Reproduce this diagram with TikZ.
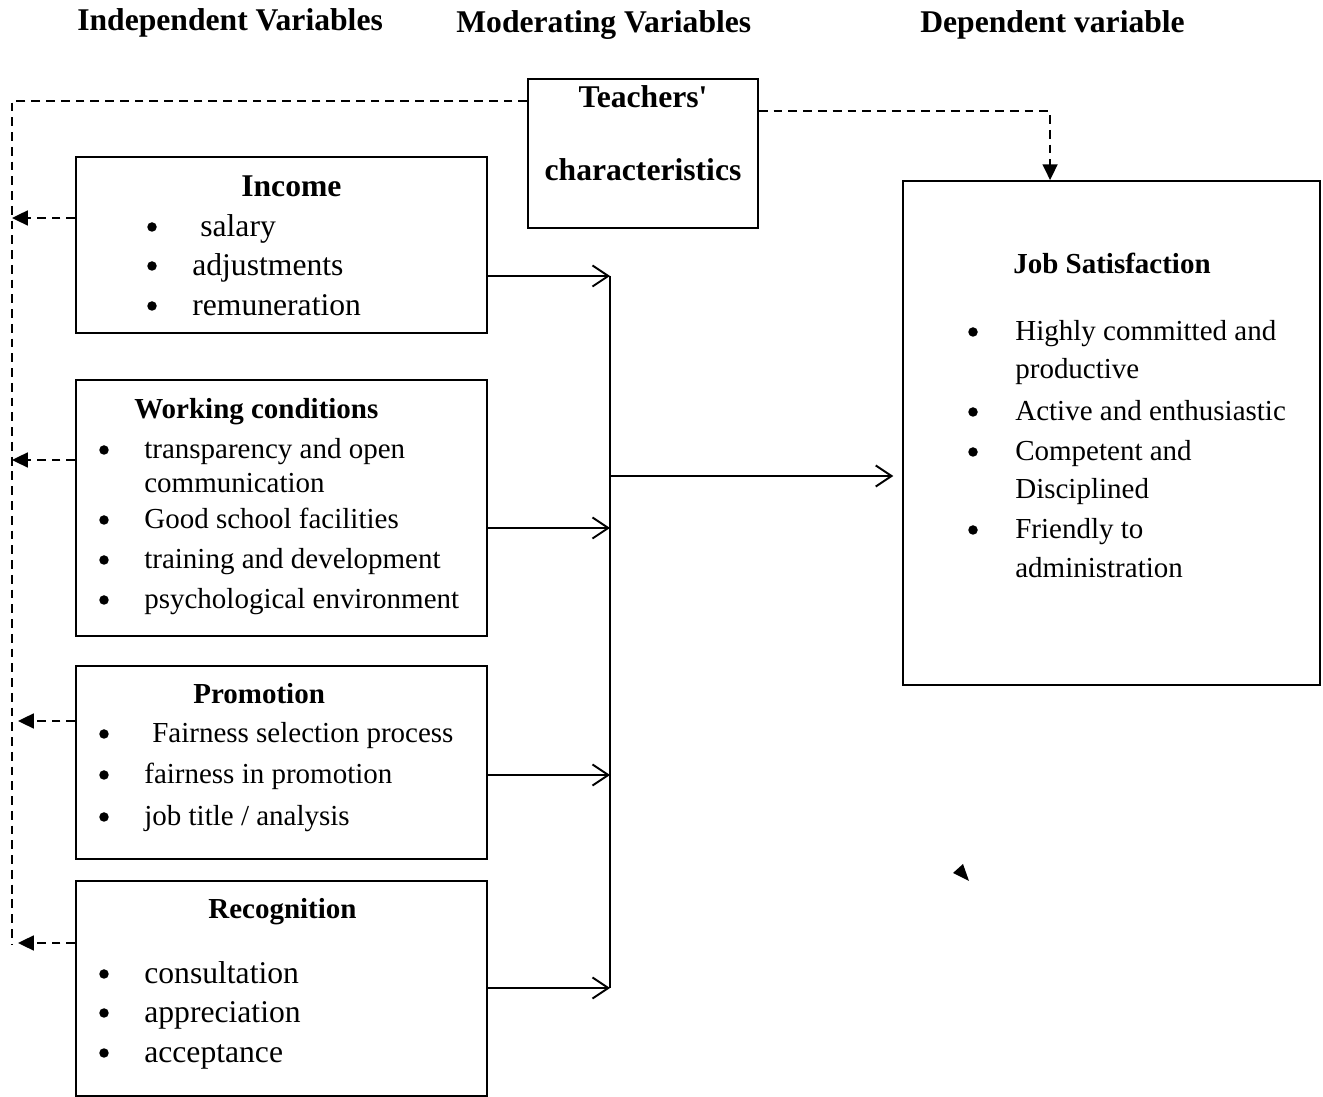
\documentclass[tikz,border=0pt]{standalone}
\usepackage{fontspec}
\setmainfont{Liberation Serif}
\usepackage{tikz}
\usepackage{xcolor}
\usetikzlibrary{positioning,arrows.meta,calc}

\begin{document}
\begin{tikzpicture}[
      x=0.02cm, y=-0.02cm,
      box/.style={draw, line width=1.1pt, inner sep=0pt},
      hdr/.style={anchor=base west, inner sep=0pt, font=\fontsize{18}{20}\selectfont\bfseries},
      ttl/.style={anchor=base west, inner sep=0pt, font=\fontsize{16.5}{19}\selectfont\bfseries},
      itm/.style={anchor=base west, inner sep=0pt, font=\fontsize{16.5}{19}\selectfont},
      itmL/.style={anchor=base west, inner sep=0pt, font=\fontsize{18}{20}\selectfont},
      blt/.style={circle, fill, inner sep=0pt, minimum size=0.19cm},
      arr/.style={-{Straight Barb[length=9pt, width=12pt]}, line width=1.1pt},
      dsh/.style={dash pattern=on 5pt off 3.4pt, line width=1.1pt},
      dtip/.style={-{Triangle[length=9pt, width=8.5pt]}}
  ]
    \useasboundingbox (0,0) rectangle (1323,1097);
    % column headings
    \node[hdr] (hind) at (77,31) {Independent Variables};
    \node[hdr] (hmod) at (456,33) {Moderating Variables};
    \node[hdr] (hdep) at (920,33) {Dependent variable};

    % boxes
    \node[box, minimum width=8.22cm, minimum height=3.52cm] (inc) at (281.5,245) {};
    \node[box, minimum width=8.22cm, minimum height=5.12cm] (work) at (281.5,508) {};
    \node[box, minimum width=8.22cm, minimum height=3.86cm] (prom) at (281.5,762.5) {};
    \node[box, minimum width=8.22cm, minimum height=4.30cm] (recog) at (281.5,988.5) {};
    \node[box, minimum width=4.6cm, minimum height=2.98cm] (teach) at (643,153.5) {};
    \node[box, minimum width=8.34cm, minimum height=10.08cm] (job) at (1111.5,433) {};

    % Income
    \node[hdr] (tinc) at (241,197) {Income};
    \foreach \y in {236,275,315} \node[blt] (binc\y) at (152,\y-9) {};
    \node[itmL] (inc1) at (200,237) {salary};
    \node[itmL] (inc2) at (192,276) {adjustments};
    \node[itmL] (inc3) at (192,316) {remuneration};

    % Working conditions
    \node[ttl] (twork) at (134,419) {Working conditions};
    \foreach \y in {458,528,568,608} \node[blt] (bwork\y) at (104,\y-8) {};
    \node[itm] (work1) at (144,459) {transparency and open};
    \node[itm] (work1b) at (144,493) {communication};
    \node[itm] (work2) at (144,529) {Good school facilities};
    \node[itm] (work3) at (144,569) {training and development};
    \node[itm] (work4) at (144,609) {psychological environment};

    % Promotion
    \node[ttl] (tprom) at (193,704) {Promotion};
    \foreach \y in {742,783,825} \node[blt] (bprom\y) at (104,\y-8) {};
    \node[itm] (prom1) at (152,743) {Fairness selection process};
    \node[itm] (prom2) at (144,784) {fairness in promotion};
    \node[itm] (prom3) at (144,826) {job title / analysis};

    % Recognition
    \node[ttl] (trecog) at (208,919) {Recognition};
    \foreach \y in {983,1022,1062} \node[blt] (brecog\y) at (104,\y-9) {};
    \node[itmL] (recog1) at (144,984) {consultation};
    \node[itmL] (recog2) at (144,1023) {appreciation};
    \node[itmL] (recog3) at (144,1063) {acceptance};

    % Teachers' characteristics
    \node[hdr, anchor=base] (tteach1) at (643,108) {Teachers\textquotesingle};
    \node[hdr, anchor=base] (tteach2) at (643,181) {characteristics};

    % Job Satisfaction
    \node[ttl] (tjob) at (1013,274) {Job Satisfaction};
    \foreach \y in {340,420,460,538} \node[blt] (bjob\y) at (973,\y-8) {};
    \node[itm] (job1) at (1015,341) {Highly committed and};
    \node[itm] (job1b) at (1015,379) {productive};
    \node[itm] (job2) at (1015,421) {Active and enthusiastic};
    \node[itm] (job3) at (1015,461) {Competent and};
    \node[itm] (job3b) at (1015,499) {Disciplined};
    \node[itm] (job4) at (1015,539) {Friendly to};
    \node[itm] (job4b) at (1015,578) {administration};

    % dashed moderating lines
    \coordinate (lb) at (12,945);
    \draw[dsh] ($(teach.north west)+(0,23)$) -| (lb);
    \draw[dsh, dtip] ($(teach.north east)+(0,33)$) -| ($(job.north west)+(148,0)$);
    \coordinate (incL) at ($(inc.west)+(0,-27)$);
    \coordinate (workL) at ($(work.west)+(0,-48)$);
    \coordinate (promL) at ($(prom.west)+(0,-41.5)$);
    \coordinate (recogL) at ($(recog.west)+(0,-45.5)$);
    \draw[dsh, dtip] (incL) -- (incL -| lb);
    \draw[dsh, dtip] (workL) -- (workL -| lb);
    \draw[dsh, dtip] (promL) -- ($(promL -| lb)+(6,0)$);
    \draw[dsh, dtip] (recogL) -- ($(recogL -| lb)+(6,0)$);

    % solid connectors to the bus
    \coordinate (bt) at (610,276);
    \coordinate (bb) at (610,988);
    \draw[line width=1.1pt] (bt) -- (bb);
    \coordinate (incR) at ($(inc.east)+(0,31)$);
    \coordinate (workR) at ($(work.east)+(0,20)$);
    \coordinate (promR) at ($(prom.east)+(0,12.5)$);
    \coordinate (recogR) at ($(recog.east)+(0,-0.5)$);
    \draw[arr] (incR) -- (incR -| bt);
    \draw[arr] (workR) -- (workR -| bt);
    \draw[arr] (promR) -- (promR -| bt);
    \draw[arr] (recogR) -- (recogR -| bt);
    \coordinate (jobL) at ($(job.west)+(0,43)$);
    \draw[arr, shorten >=5pt] (jobL -| bt) -- (jobL);

    % stray arrowhead
    \fill (953,873) -- (963,864) -- (969,881) -- cycle;
  \end{tikzpicture}
\end{document}
